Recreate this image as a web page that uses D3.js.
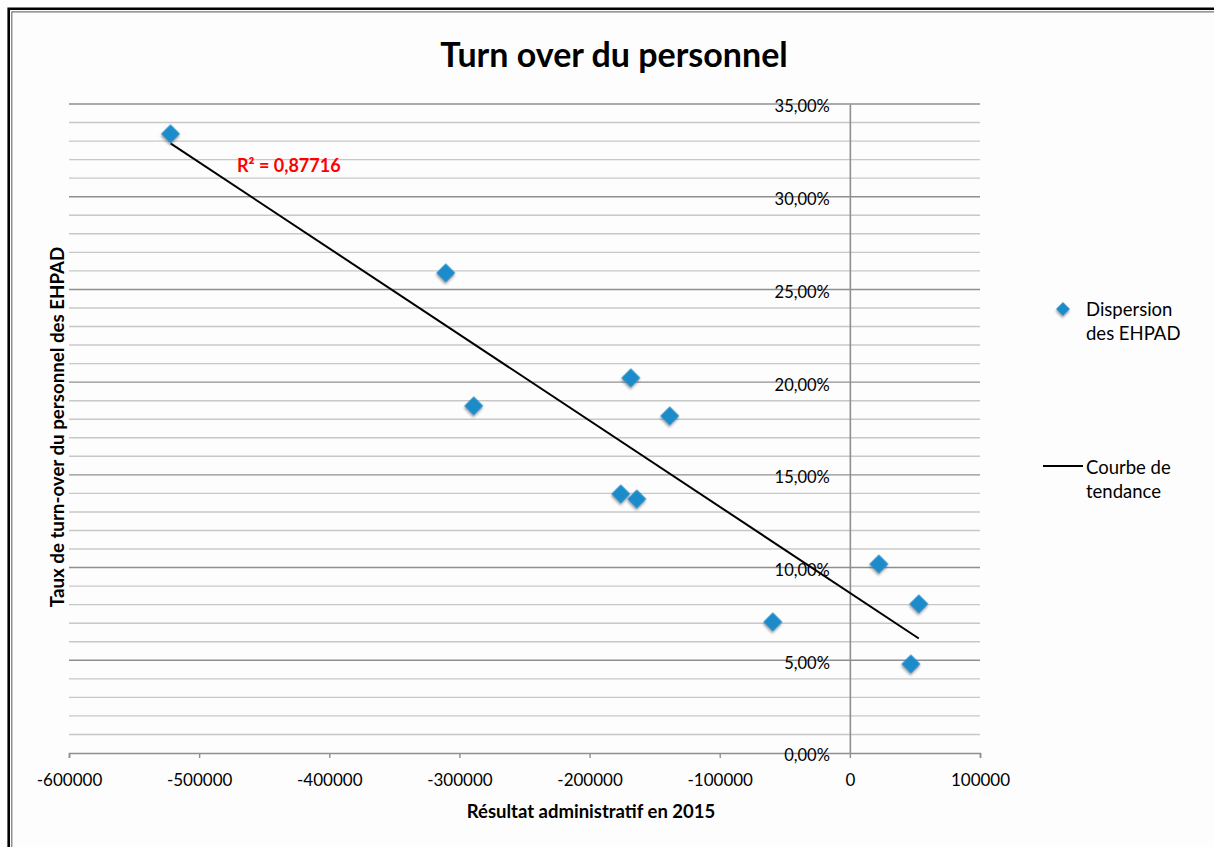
<!DOCTYPE html>
<html>
<head>
<meta charset="utf-8">
<script src="https://cdn.jsdelivr.net/npm/d3@7"></script>
<style>
  html, body { margin: 0; padding: 0; background: #fff; }
  svg { display: block; }
  text { font-family: Lato, "Open Sans", sans-serif; fill: #000; }
</style>
</head>
<body>
<svg id="chart" width="1214" height="847"></svg>
<script>
// ---- Data ----
const resultat = [-522000, -310500, -289000, -168300, -138400, -176000, -163700, -59200, 22300, 53000, 46900];
const turnover = [0.3339, 0.2589, 0.1872, 0.2023, 0.1818, 0.1397, 0.1370, 0.0707, 0.1019, 0.0804, 0.0480];
const xTicks = [-600000, -500000, -400000, -300000, -200000, -100000, 0, 100000];
const yMajorTicks = [0, 0.05, 0.10, 0.15, 0.20, 0.25, 0.30, 0.35];
const yMinorTicks = d3.range(0, 36).map(d => d / 100);
const titleText = "Turn over du personnel";
const xTitle = "Résultat administratif en 2015";
const yTitle = "Taux de turn-over du personnel des EHPAD";
const r2Label = "R² = 0,87716";
const legendScatter = ["Dispersion", "des EHPAD"];
const legendTrend = ["Courbe de", "tendance"];

const svg = d3.select("#chart");

// outer frame (double border on top/left)
svg.append("rect").attr("x", 0).attr("y", 0).attr("width", 1214).attr("height", 847).attr("fill", "#fdfdfd");
svg.append("path").attr("d", "M8.7,847 V8.7 H1214").attr("fill", "none").attr("stroke", "#000").attr("stroke-width", 2.6);
svg.append("path").attr("d", "M11.8,847 V11.8 H1214").attr("fill", "none").attr("stroke", "#777").attr("stroke-width", 1.2);

const defs = svg.append("defs");
const f = defs.append("filter").attr("id", "shadow").attr("x", "-50%").attr("y", "-50%").attr("width", "200%").attr("height", "200%");
f.append("feDropShadow").attr("dx", 1.2).attr("dy", 1.8).attr("stdDeviation", 1.3).attr("flood-color", "#555").attr("flood-opacity", 0.55);

const x = d3.scaleLinear().domain([-600000, 100000]).range([69, 980]);
const y = d3.scaleLinear().domain([0, 0.35]).range([753, 104]);

// minor gridlines
svg.append("g").selectAll("line").data(yMinorTicks.filter(d => Math.round(d * 100) % 5 !== 0))
  .join("line")
  .attr("x1", x(-600000)).attr("x2", x(100000))
  .attr("y1", d => y(d)).attr("y2", d => y(d))
  .attr("stroke", "#c8c8c8").attr("stroke-width", 1.4);

// major gridlines
svg.append("g").selectAll("line").data(yMajorTicks.filter(d => d > 0))
  .join("line")
  .attr("x1", x(-600000)).attr("x2", x(100000))
  .attr("y1", d => y(d)).attr("y2", d => y(d))
  .attr("stroke", "#8f8f8f").attr("stroke-width", 1.4);

// x axis at y=0
const xAxis = d3.axisBottom(x).tickValues(xTicks).tickSize(5).tickPadding(16).tickFormat(d3.format("d"));
const gx = svg.append("g").attr("transform", `translate(0,${y(0)})`).call(xAxis);
gx.select(".domain").attr("stroke", "#8f8f8f").attr("stroke-width", 1.6);
gx.selectAll(".tick line").attr("stroke", "#8f8f8f").attr("stroke-width", 1.4);
gx.selectAll(".tick text").attr("font-size", 17).attr("font-family", "Lato").attr("fill", "#000")
  .text(d => d3.format("d")(d).replace("−", "-"));

// y axis at x=0
const yAxis = d3.axisLeft(y).tickValues(yMajorTicks).tickSize(0).tickPadding(20)
  .tickFormat(d => d3.format(".2f")(d * 100).replace(".", ",") + "%");
const gy = svg.append("g").attr("transform", `translate(${x(0)},0)`).call(yAxis);
gy.select(".domain").attr("stroke", "#8f8f8f").attr("stroke-width", 1.6);
gy.selectAll(".tick text").attr("font-size", 16.5).attr("font-family", "Lato").attr("fill", "#000").attr("dy", "0.48em");

// trend line (least squares from the data)
const mx = d3.mean(resultat), my = d3.mean(turnover);
let sxy = 0, sxx = 0;
resultat.forEach((v, i) => { sxy += (v - mx) * (turnover[i] - my); sxx += (v - mx) * (v - mx); });
const slope = sxy / sxx, intercept = my - slope * mx;
const [xmin, xmax] = d3.extent(resultat);
svg.append("line")
  .attr("x1", x(xmin)).attr("y1", y(intercept + slope * xmin))
  .attr("x2", x(xmax)).attr("y2", y(intercept + slope * xmax))
  .attr("stroke", "#000").attr("stroke-width", 2);

// points
const diamond = d3.symbol().type(d3.symbolSquare).size(180);
svg.append("g").selectAll("path").data(resultat.map((v, i) => [v, turnover[i]]))
  .join("path")
  .attr("d", diamond)
  .attr("transform", d => `translate(${x(d[0])},${y(d[1])}) rotate(45)`)
  .attr("fill", "#1c8bca")
  .attr("filter", "url(#shadow)");

// R² label
svg.append("text").attr("x", 237).attr("y", 172).attr("font-size", 18).attr("font-weight", "bold")
  .style("fill", "#ff0000").text(r2Label);

// title
svg.append("text").attr("x", 614).attr("y", 67).attr("text-anchor", "middle")
  .attr("font-size", 34).attr("font-weight", "bold").text(titleText);

// axis titles
svg.append("text").attr("x", 591).attr("y", 818).attr("text-anchor", "middle")
  .attr("font-size", 18.5).attr("font-weight", "bold").text(xTitle);
svg.append("text").attr("transform", "translate(64,427) rotate(-90)").attr("text-anchor", "middle")
  .attr("font-size", 18.7).attr("font-weight", "bold").text(yTitle);

// legend
svg.append("path").attr("d", d3.symbol().type(d3.symbolSquare).size(95))
  .attr("transform", "translate(1063,309) rotate(45)").attr("fill", "#1c8bca").attr("filter", "url(#shadow)");
svg.append("text").attr("x", 1086).attr("y", 316).attr("font-size", 18.5)
  .selectAll("tspan").data(legendScatter).join("tspan")
  .attr("x", 1086).attr("dy", (d, i) => i === 0 ? 0 : 24).text(d => d);
svg.append("line").attr("x1", 1043).attr("x2", 1083).attr("y1", 466).attr("y2", 466)
  .attr("stroke", "#000").attr("stroke-width", 2);
svg.append("text").attr("x", 1086).attr("y", 474).attr("font-size", 18.5)
  .selectAll("tspan").data(legendTrend).join("tspan")
  .attr("x", 1086).attr("dy", (d, i) => i === 0 ? 0 : 24).text(d => d);
</script>
</body>
</html>
